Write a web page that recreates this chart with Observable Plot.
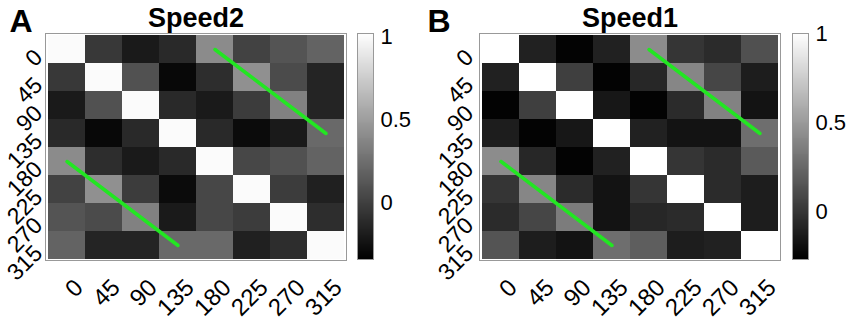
<!DOCTYPE html>
<html><head><meta charset="utf-8">
<script src="https://cdn.jsdelivr.net/npm/d3@7"></script>
<script src="https://cdn.jsdelivr.net/npm/@observablehq/plot@0.6"></script>
<style>
body{margin:0;background:#fff;}
#root{position:relative;width:851px;height:320px;overflow:hidden;font-family:"Liberation Sans",Arial,sans-serif;}
#root > svg, #root > figure{position:absolute;top:0;margin:0;}
</style></head><body><div id="root"></div>
<script>
const angles = [0, 45, 90, 135, 180, 225, 270, 315];

// Speed2 (panel A) correlation matrix, rows = y angle, cols = x angle
const speed2 = [
  [ 1.00, -0.04, -0.20, -0.12,  0.40,  0.01,  0.11,  0.19],
  [-0.04,  1.00,  0.09, -0.30, -0.10,  0.43,  0.06, -0.15],
  [-0.20,  0.09,  1.00, -0.12, -0.20, -0.02,  0.35, -0.15],
  [-0.12, -0.30, -0.12,  1.00, -0.12, -0.28, -0.20,  0.22],
  [ 0.40, -0.10, -0.20, -0.12,  1.00,  0.04,  0.09,  0.19],
  [ 0.01,  0.43, -0.02, -0.28,  0.04,  1.00, -0.02, -0.17],
  [ 0.11,  0.06,  0.35, -0.20,  0.04, -0.02,  1.00, -0.10],
  [ 0.19, -0.15, -0.15,  0.22,  0.22, -0.17, -0.10,  1.00]
];

// Speed1 (panel B)
const speed1 = [
  [ 1.00, -0.10, -0.25, -0.10,  0.43,  0.00, -0.05,  0.13],
  [-0.10,  1.00,  0.05, -0.25, -0.07,  0.40,  0.08, -0.12],
  [-0.25,  0.05,  1.00, -0.15, -0.25, -0.05,  0.38, -0.17],
  [-0.12, -0.25, -0.15,  1.00, -0.10, -0.17, -0.17,  0.28],
  [ 0.43, -0.07, -0.25, -0.10,  1.00,  0.00, -0.05,  0.18],
  [ 0.00,  0.40, -0.05, -0.17,  0.00,  1.00, -0.05, -0.12],
  [-0.05,  0.08,  0.35, -0.17, -0.07, -0.05,  1.00, -0.12],
  [ 0.15, -0.12, -0.17,  0.28,  0.20, -0.12, -0.10,  1.00]
];

const colorTicks = [0, 0.5, 1];
const colorDomainA = [-0.34, 1.02];
const colorDomainB = [-0.265, 1.0];

// green guide segments (in angle coordinates)
const greenSegments = [
  {seg: "upper", x: 180, y: 0}, {seg: "upper", x: 315, y: 135},
  {seg: "lower", x: 0, y: 180}, {seg: "lower", x: 135, y: 315}
];

const panels = [
  {letter: "A", title: "Speed2", values: speed2, domain: colorDomainA, left: 0, letterDx: -36, yLabDx: -7, cbLeft: 357},
  {letter: "B", title: "Speed1", values: speed1, domain: colorDomainB, left: 434, letterDx: -52, yLabDx: -10, cbLeft: 792}
];

const FONT = '"Liberation Sans", Arial, Helvetica, sans-serif';
const root = document.getElementById("root");

for (const p of panels) {
  const cells = angles.flatMap((r, i) => angles.map((c, j) => ({row: r, col: c, v: p.values[i][j]})));
  const color = {type: "linear", domain: p.domain, range: ["#000000", "#ffffff"], interpolate: "rgb", clamp: true};

  const heat = Plot.plot({
    width: 350, height: 320,
    marginLeft: 45, marginRight: 4, marginTop: 33, marginBottom: 60,
    style: {fontFamily: FONT, background: "transparent", overflow: "visible", color: "#000"},
    x: {type: "band", domain: angles, padding: 0, axis: null},
    y: {type: "band", domain: angles, padding: 0, axis: null},
    color,
    marks: [
      Plot.cell(cells, {x: "col", y: "row", fill: "v", inset: 0, shapeRendering: "crispEdges"}),
      Plot.frame({stroke: "#999", strokeWidth: 1}),
      Plot.line(greenSegments, {x: "x", y: "y", z: "seg", stroke: "#22e622", strokeWidth: 3.5}),
      Plot.text(angles, {y: d => d, text: d => String(d), frameAnchor: "left", lineAnchor: "middle", textAnchor: "end", rotate: -45, dx: p.yLabDx, dy: 4, fontSize: 23}),
      Plot.text(angles, {x: d => d, text: d => String(d), frameAnchor: "bottom", lineAnchor: "middle", textAnchor: "end", rotate: -45, dx: 12, dy: 23, fontSize: 24}),
      Plot.text([p.title], {text: d => d, frameAnchor: "top", lineAnchor: "middle", dy: -15.5, fontSize: 27, fontWeight: "bold"}),
      Plot.text([p.letter], {text: d => d, frameAnchor: "top-left", lineAnchor: "middle", textAnchor: "start", dx: p.letterDx, dy: -11.5, fontSize: 32, fontWeight: "bold"})
    ]
  });
  heat.style.left = p.left + "px";
  root.appendChild(heat);

  const n = 240;
  const [lo, hi] = p.domain;
  const steps = d3.range(n).map(i => ({
    y1: lo + (hi - lo) * i / n,
    y2: lo + (hi - lo) * Math.min(n, i + 1.5) / n,
    v: lo + (hi - lo) * (i + 0.5) / n
  }));

  const bar = Plot.plot({
    width: 70, height: 320,
    marginLeft: 0, marginRight: 54, marginTop: 33, marginBottom: 61,
    style: {fontFamily: FONT, background: "transparent", overflow: "visible", color: "#000"},
    y: {type: "linear", domain: p.domain, axis: null},
    color,
    marks: [
      Plot.rect(steps, {y1: "y1", y2: "y2", fill: "v", shapeRendering: "crispEdges"}),
      Plot.frame({stroke: "#999", strokeWidth: 1}),
      Plot.text(colorTicks, {y: d => d, text: d => String(d), frameAnchor: "right", lineAnchor: "middle", textAnchor: "start", dx: 7, fontSize: 22})
    ]
  });
  bar.style.left = p.cbLeft + "px";
  root.appendChild(bar);
}
</script></body></html>
